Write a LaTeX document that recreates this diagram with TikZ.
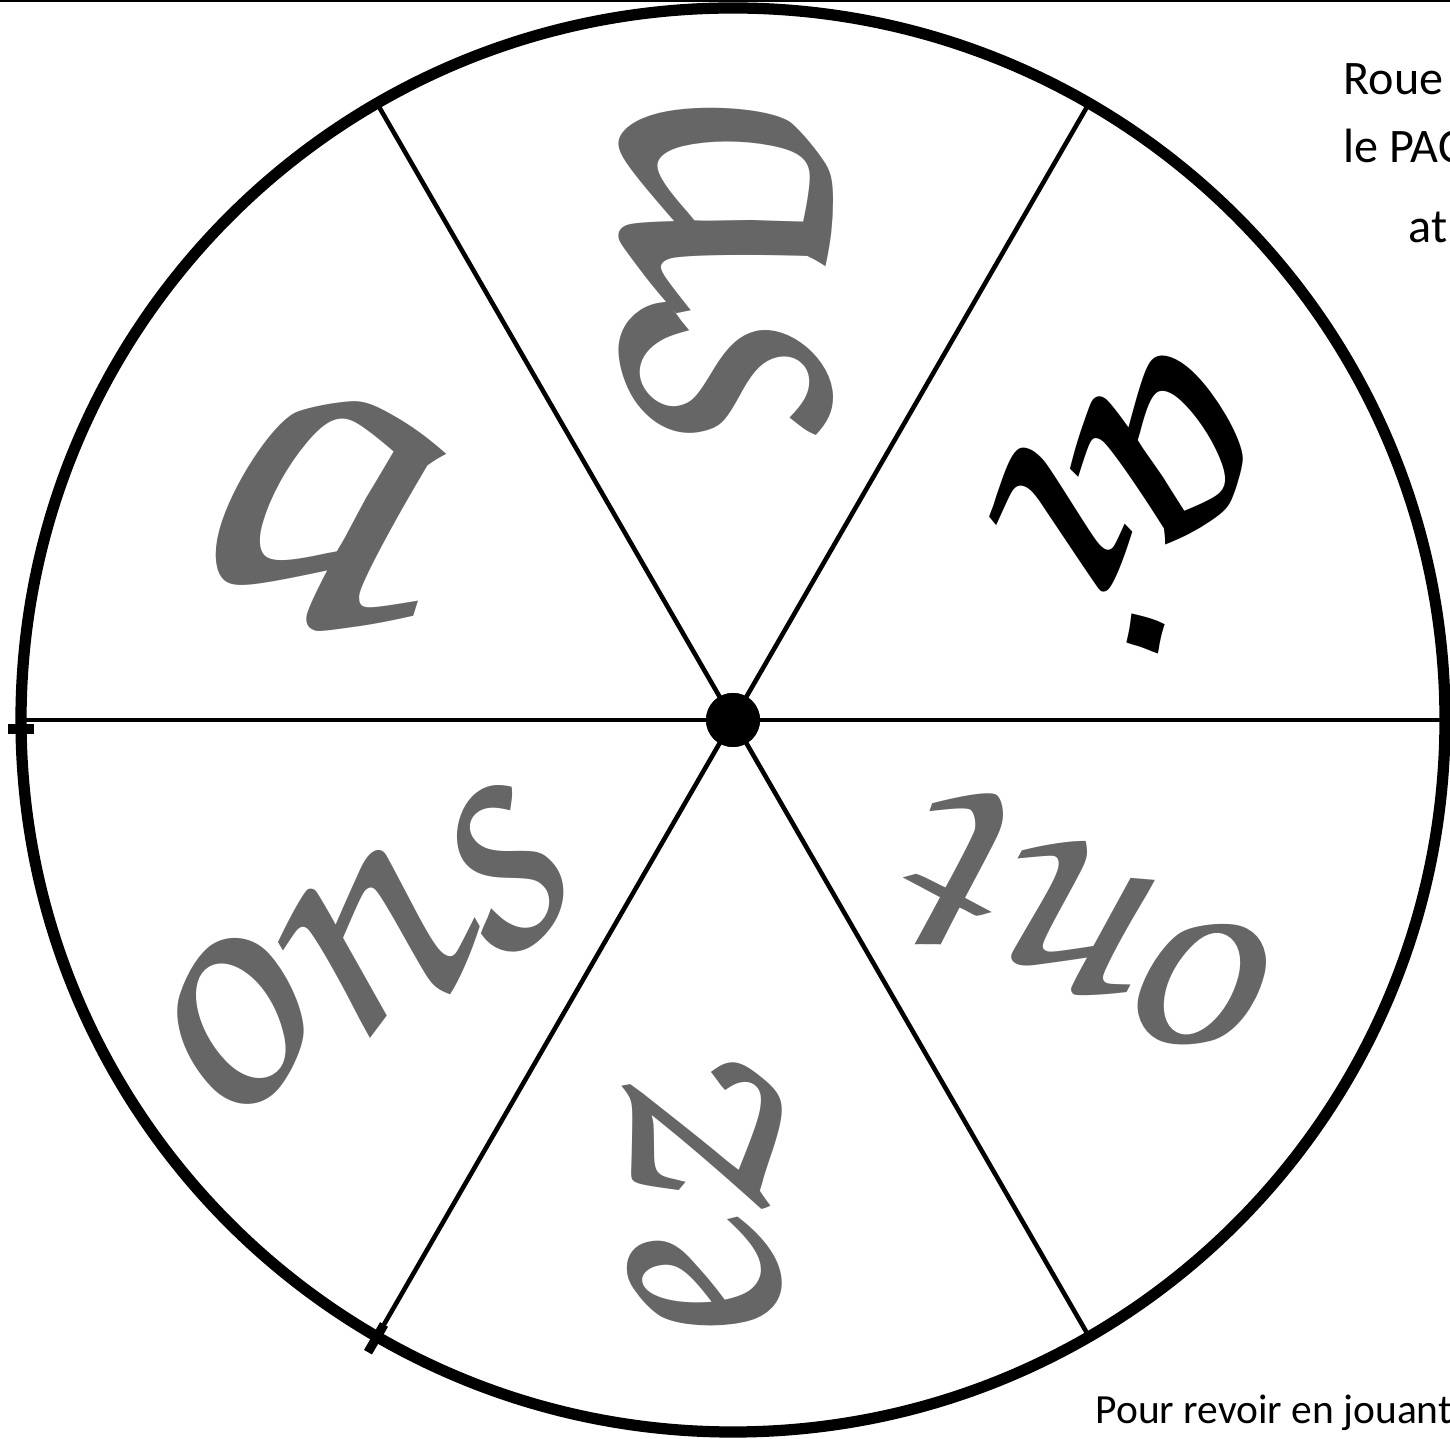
\documentclass[tikz,border=0pt]{standalone}
\usepackage[T1]{fontenc}
\usepackage{fontspec}
\newfontfamily\calib{Carlito}
\newcommand{\cursiv}[1]{\fontencoding{T1}\fontfamily{pzc}\fontseries{mb}\fontshape{it}\fontsize{#1}{#1}\selectfont}
\definecolor{ink}{HTML}{666666}
\tikzset{
  rim/.style={line width=3.2pt, draw=black},
  spoke/.style={line width=1.3pt, draw=black},
  flatspoke/.style={line width=0.9pt, draw=black},
  hubdot/.style={circle, fill=black, minimum size=0.54cm, inner sep=0pt},
  ending/.style={inner sep=0pt, text=ink},
  upright/.style={xslant=-0.24},
  note/.style={inner sep=0pt, anchor=base west, font=\calib\fontsize{13.7pt}{16pt}\selectfont},
  tick/.style={line width=2.6pt, draw=black}
}
\begin{document}
\begin{tikzpicture}
\useasboundingbox (0,0) rectangle (14.5,14.38);
\clip (0,0) rectangle (14.5,14.38);
\fill[white] (0,0) rectangle (14.5,14.38);
% top border line
\coordinate (tl) at (0,14.37);
\coordinate (tr) at (14.5,14.37);
\draw[line width=0.6pt] (tl) -- (tr);
% hub
\node[hubdot] (hub) at (7.33,7.18) {};
% rim points
\path (hub.center) ++(0:7.12) coordinate (r0);
\path (hub.center) ++(60:7.12) coordinate (r60);
\path (hub.center) ++(120:7.12) coordinate (r120);
\path (hub.center) ++(180:7.08) coordinate (r180);
\path (hub.center) ++(240:7.12) coordinate (r240);
\path (hub.center) ++(300:7.12) coordinate (r300);
\path (hub.center) ++(240:6.98) coordinate (k1);
\path (hub.center) ++(240:7.30) coordinate (k2);
\coordinate (k3) at (0.08,7.09);
\coordinate (k4) at (0.34,7.09);
% spokes
\draw[spoke] (hub.center) -- (r60);
\draw[spoke] (hub.center) -- (r120);
\draw[spoke] (hub.center) -- (r240);
\draw[spoke] (hub.center) -- (r300);
\draw[flatspoke] (hub.center) -- (r0);
\draw[flatspoke] (hub.center) -- (r180);
% rim
\draw[rim] (hub.center) circle (7.12);
\draw[tick] (k1) -- (k2);
\draw[tick] (k3) -- (k4);
\node[hubdot] at (hub.center) {};
% endings
\node[ending, rotate=-90, upright] (as) at (7.31,11.98) {\cursiv{144pt}as};
\node[ending, text=black, rotate=214, upright] (ai) at (11.82,9.50) {\cursiv{112pt}ai};
\node[ending, rotate=152, upright] (ont) at (11.02,4.80) {\cursiv{94pt}ont};
\node[ending, rotate=90, upright] (ez) at (7.02,2.16) {\cursiv{104pt}ez};
\node[ending, rotate=30, upright] (ons) at (3.45,4.80) {\cursiv{108pt}ons};
\node[ending, rotate=-29, upright] (a) at (2.98,9.51) {\cursiv{152pt}a};
% notes
\node[note] (n1) at (13.43,13.43) {Roue};
\node[note] (n2) at (13.43,12.75) {le PAC};
\node[note] (n3) at (14.08,11.95) {at};
\node[note, font=\calib\fontsize{11.8pt}{14pt}\selectfont] (n4) at (10.95,0.15) {Pour revoir en jouant};
\end{tikzpicture}
\end{document}
